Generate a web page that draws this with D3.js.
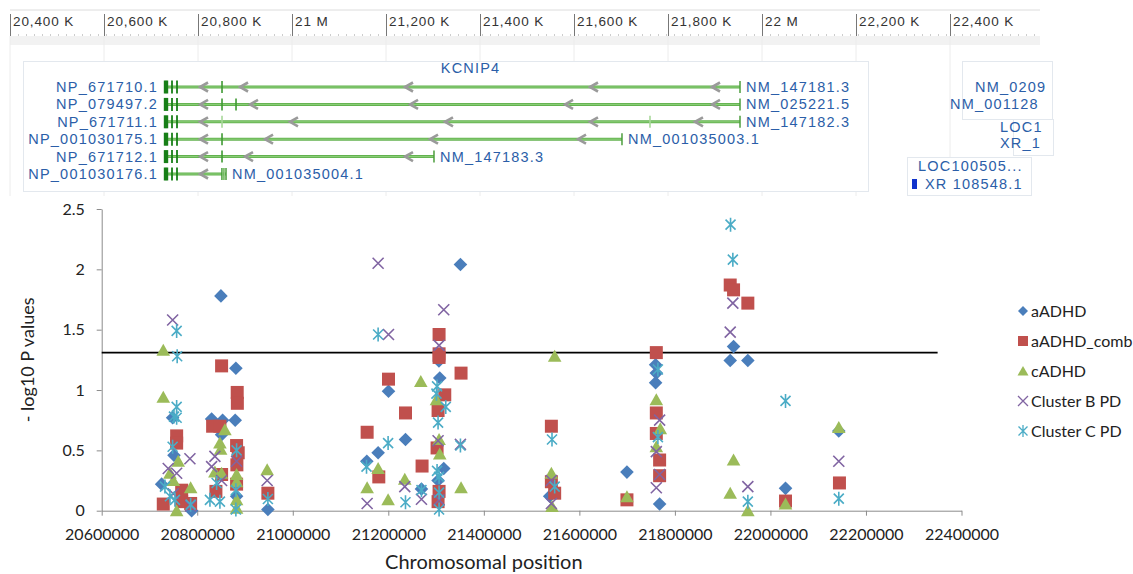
<!DOCTYPE html>
<html>
<head>
<meta charset="utf-8">
<script src="https://cdn.jsdelivr.net/npm/d3@7"></script>
<style>
body { margin: 0; background: #fff; }
svg { display: block; }
</style>
</head>
<body>
<svg id="chart" width="1133" height="574"></svg>
<script>
// ---- scatter data: [chromosomal position, -log10 P] ----
var aADHD = [[20725500,0.22],[20748500,0.77],[20751300,0.46],[20788300,0.0],
  [20849600,1.78],[20880900,1.18],[20879500,0.75],[20830100,0.76],[20853100,0.75],[20851000,0.63],[20882400,0.12],
  [20947900,0.01],
  [21155000,0.41],[21178700,0.48],[21200400,0.99],[21236000,0.59],[21269400,0.18],[21307700,1.10],[21306000,1.24],
  [21316100,0.35],[21351000,2.04],[21304200,0.25],
  [21537800,0.12],[21699600,0.32],[21759600,1.21],[21761100,1.14],[21759600,1.06],[21768000,0.055],
  [21922800,1.36],[21915800,1.245],[21952700,1.245],
  [22031600,0.185],[22143100,0.66]];

var aADHDcomb = [[20728900,0.055],[20756900,0.62],[20756900,0.56],[20767400,0.17],[20767400,0.075],[20786200,0.06],
  [20851000,1.2],[20883700,0.98],[20884000,0.89],[20832200,0.70],[20847500,0.70],[20882400,0.54],[20885800,0.48],
  [20883000,0.38],[20851000,0.30],[20882400,0.22],[20839100,0.16],
  [20947900,0.145],
  [21155700,0.65],[21180100,0.28],[21200400,1.09],[21236000,0.81],[21270700,0.37],[21306300,1.46],[21306300,1.30],
  [21306300,1.27],[21352300,1.14],[21318200,0.96],[21304200,0.83],[21302100,0.52],[21306300,0.16],[21304200,0.075],
  [21541400,0.70],[21541400,0.24],[21548300,0.145],
  [21699600,0.09],
  [21761100,1.31],[21761100,0.81],[21761100,0.64],[21768000,0.42],[21768000,0.29],
  [21915800,1.87],[21922800,1.83],[21952700,1.72],
  [22031600,0.08],[22144500,0.23]];

var cADHD = [[20728900,1.33],[20728900,0.94],[20760200,0.41],[20742900,0.31],[20749800,0.25],[20786200,0.19],[20756900,0.0],
  [20857900,0.67],[20847500,0.56],[20849000,0.51],[20837000,0.32],[20851000,0.31],[20882400,0.30],[20882400,0.24],
  [20882400,0.09],[20882400,0.02],
  [20946400,0.34],
  [21155700,0.19],[21178700,0.35],[21199600,0.09],[21234500,0.26],[21268000,1.07],[21300800,0.92],[21306300,0.59],
  [21307700,0.47],[21352300,0.19],
  [21548300,1.28],[21541400,0.31],[21542700,0.035],
  [21699600,0.115],
  [21761100,0.92],[21769400,0.68],[21761100,0.53],
  [21922800,0.42],[21915800,0.145],[21952700,0.0],
  [22031600,0.055],[22143100,0.69]];

var clusterB = [[20748500,1.58],[20784700,0.43],[20739300,0.35],[20756900,0.31],[20749800,0.14],[20786200,0.04],
  [20837000,0.45],[20830100,0.365],[20882400,0.41],[20851000,0.25],
  [20946400,0.25],
  [21178700,2.05],[21155700,0.06],[21234500,0.20],[21269400,0.095],[21316100,1.665],[21306300,1.37],[21304200,0.58],
  [21306300,0.09],[21351000,0.55],[21200400,1.46],
  [21541400,0.25],[21541400,0.06],
  [21768000,0.75],[21761100,0.49],[21768000,0.30],[21761100,0.19],
  [21921300,1.72],[21915800,1.48],[21952700,0.20],
  [22143100,0.41]];

var clusterC = [[20756900,1.49],[20758000,1.28],[20756900,0.86],[20756900,0.77],[20751300,0.78],[20748500,0.53],
  [20732400,0.20],[20742900,0.12],[20753300,0.09],[20786200,0.05],
  [20882400,0.50],[20840600,0.23],[20880900,0.17],[20826600,0.09],[20847500,0.075],[20880900,0.01],
  [20947900,0.097],
  [21178700,1.46],[21154400,0.365],[21199600,0.56],[21236000,0.07],[21269400,0.17],[21302100,1.03],[21300800,0.97],
  [21320300,0.86],[21304200,0.73],[21302100,0.33],[21306300,0.28],[21306300,0.15],[21306300,0.01],[21351000,0.54],
  [21542700,0.59],[21548300,0.20],
  [21764400,1.17],[21764400,0.61],
  [21916500,2.37],[21921300,2.08],[21952700,0.075],
  [22031600,0.91],[22143100,0.10]];

var seriesNames = ["aADHD", "aADHD_comb", "cADHD", "Cluster B PD", "Cluster C PD"];
var seriesData = [aADHD, aADHDcomb, cADHD, clusterB, clusterC];
var seriesColors = ["#4a7ebb", "#c0504d", "#9bbb59", "#8064a2", "#4bacc6"];

var xTicks = [20600000,20800000,21000000,21200000,21400000,21600000,21800000,22000000,22200000,22400000];
var yTicks = [0, 0.5, 1, 1.5, 2, 2.5];
var threshold = 1.31;
var thresholdRange = [20600000, 22350000];

// ---- genome browser data ----
var rulerTicks = [20400000,20600000,20800000,21000000,21200000,21400000,21600000,21800000,22000000,22200000,22400000];
var rulerLabels = ["20,400 K","20,600 K","20,800 K","21 M","21,200 K","21,400 K","21,600 K","21,800 K","22 M","22,200 K","22,400 K"];
var geneName = "KCNIP4";
var txStart = 20729800;
var proteinIds = ["NP_671710.1","NP_079497.2","NP_671711.1","NP_001030175.1","NP_671712.1","NP_001030176.1"];
var mrnaIds = ["NM_147181.3","NM_025221.5","NM_147182.3","NM_001035003.1","NM_147183.3","NM_001035004.1"];
var txEnds = [21953200, 21953200, 21953200, 21702100, 21302100, 20859600];
var txArrows = [
  [20804300, 20889400, 21240400, 21634000, 21893600],
  [20804300, 20910600, 21251100, 21580900, 21893600],
  [20804300, 20995700, 21325500, 21634000, 21857400],
  [20804300, 20942600, 21293600, 21608500],
  [20804300, 20900000, 21240400],
  [20804300]];
var txExons = [[20851100], [20851100, 20880900], [20851100, 21761700], [20851100], [20851100], [20851100, 20855400]];

var svg = d3.select("#chart");

// ================= genome browser panel =================
var bx = d3.scaleLinear().domain([20400000, 22400000]).range([10, 950]);
var rowY = d3.scalePoint().domain(d3.range(proteinIds.length)).range([87, 174]);
var gb = svg.append("g").attr("id", "browser");
var btext = "'Liberation Sans', Arial, sans-serif";
var labelBlue = "#2b5ea8";

// ruler
gb.append("line").attr("x1", 10).attr("x2", 1040).attr("y1", 10).attr("y2", 10)
  .attr("stroke", "#dcdcdc");
gb.append("rect").attr("x", 10).attr("y", 36).attr("width", 1030).attr("height", 9)
  .attr("fill", "#f2f2f2");
gb.append("line").attr("x1", 10).attr("x2", 1040).attr("y1", 35).attr("y2", 35)
  .attr("stroke", "#9a9a9a").attr("stroke-dasharray", "1,7");
gb.selectAll("line.grid").data(rulerTicks).enter().append("line")
  .attr("class", "grid")
  .attr("x1", function(d){ return bx(d); }).attr("x2", function(d){ return bx(d); })
  .attr("y1", 36).attr("y2", 196)
  .attr("stroke", "#ececec");
gb.selectAll("line.rtick").data(rulerTicks).enter().append("line")
  .attr("class", "rtick")
  .attr("x1", function(d){ return bx(d) + 0.5; }).attr("x2", function(d){ return bx(d) + 0.5; })
  .attr("y1", 14).attr("y2", 36)
  .attr("stroke", "#777");
gb.selectAll("text.rlab").data(rulerTicks).enter().append("text")
  .attr("class", "rlab")
  .attr("x", function(d){ return bx(d) + 3; }).attr("y", 26)
  .attr("font-family", btext).attr("font-size", 13.5).attr("letter-spacing", 0.9)
  .attr("fill", "#333")
  .text(function(d, i){ return rulerLabels[i]; });

// track boxes
gb.append("rect").attr("x", 23.5).attr("y", 61.5).attr("width", 845).attr("height", 130)
  .attr("fill", "#fff").attr("stroke", "#e3e8ee");
gb.append("rect").attr("x", 962.5).attr("y", 61.5).attr("width", 90).attr("height", 58)
  .attr("fill", "#fff").attr("stroke", "#e3e8ee");
gb.append("rect").attr("x", 1013.5).attr("y", 119.5).attr("width", 40).attr("height", 36)
  .attr("fill", "#fff").attr("stroke", "#e3e8ee");
gb.append("rect").attr("x", 907.5).attr("y", 157.5).attr("width", 124).attr("height", 38)
  .attr("fill", "#fff").attr("stroke", "#e3e8ee");

gb.append("text").attr("x", bx(21380000)).attr("y", 73)
  .attr("text-anchor", "middle")
  .attr("font-family", btext).attr("font-size", 14.5).attr("letter-spacing", 1.2)
  .attr("fill", labelBlue).text(geneName);

var rows = gb.selectAll("g.tx").data(proteinIds).enter().append("g")
  .attr("class", "tx")
  .attr("transform", function(d, i){ return "translate(0," + rowY(i) + ")"; });

rows.append("line")
  .attr("x1", bx(txStart)).attr("x2", function(d, i){ return bx(txEnds[i]); })
  .attr("y1", 0).attr("y2", 0)
  .attr("stroke", "#63b24f").attr("stroke-width", 3);
rows.append("line")
  .attr("x1", bx(txStart)).attr("x2", function(d, i){ return bx(txEnds[i]); })
  .attr("y1", 0).attr("y2", 0)
  .attr("stroke", "#8fd07c").attr("stroke-width", 1);
// end tick
rows.append("line")
  .attr("x1", function(d, i){ return bx(txEnds[i]); }).attr("x2", function(d, i){ return bx(txEnds[i]); })
  .attr("y1", -6).attr("y2", 6).attr("stroke", "#4c9d3d").attr("stroke-width", 1.5);
// 3' exon block, internal exons, direction arrows
rows.each(function(d, i){
  var g = d3.select(this);
  var x0 = bx(txStart);
  [0, 2, 7, 12].forEach(function(off, k){
    g.append("line").attr("x1", x0 + off).attr("x2", x0 + off)
      .attr("y1", -6.5).attr("y2", 6.5)
      .attr("stroke", "#177f17").attr("stroke-width", k < 2 ? 2.4 : 1.8);
  });
  txExons[i].forEach(function(p){
    g.append("line").attr("x1", bx(p)).attr("x2", bx(p))
      .attr("y1", -6).attr("y2", 6)
      .attr("stroke", i === 2 ? "#a8d89a" : "#3f9a33").attr("stroke-width", 1.6);
  });
  txArrows[i].forEach(function(p){
    var xp = bx(p);
    g.append("path").attr("d", "M" + (xp + 8) + ",-4.5L" + xp + ",0L" + (xp + 8) + ",4.5")
      .attr("fill", "none").attr("stroke", "#9a9a9a").attr("stroke-width", 2.6);
  });
});
// thin ticks at the short transcript end
var lastRow = rows.filter(function(d, i){ return i === proteinIds.length - 1; });
[20853000, 20856200].forEach(function(p){
  lastRow.append("line").attr("x1", bx(p)).attr("x2", bx(p)).attr("y1", -6).attr("y2", 6)
    .attr("stroke", "#9fd28f").attr("stroke-width", 1);
});
rows.append("text")
  .attr("x", bx(txStart) - 7).attr("y", 5)
  .attr("text-anchor", "end")
  .attr("font-family", btext).attr("font-size", 14.5).attr("letter-spacing", 1.2)
  .attr("fill", labelBlue).text(function(d){ return d; });
rows.append("text")
  .attr("x", function(d, i){ return bx(txEnds[i]) + 6; }).attr("y", 5)
  .attr("font-family", btext).attr("font-size", 14.5).attr("letter-spacing", 1.2)
  .attr("fill", labelBlue).text(function(d, i){ return mrnaIds[i]; });

// neighbouring genes on the right
var rightLabels = [["NM_0209", 975, 92], ["NM_001128", 950, 109], ["LOC1", 1000, 132], ["XR_1", 1000, 148],
  ["LOC100505...", 918, 171], ["XR 108548.1", 925, 189]];
gb.selectAll("text.nb").data(rightLabels).enter().append("text")
  .attr("class", "nb")
  .attr("x", function(d){ return d[1]; }).attr("y", function(d){ return d[2]; })
  .attr("font-family", btext).attr("font-size", 14.5).attr("letter-spacing", 1.2)
  .attr("fill", labelBlue).text(function(d){ return d[0]; });
gb.append("rect").attr("x", 912).attr("y", 179).attr("width", 5).attr("height", 10).attr("fill", "#1133cc");

// ================= scatter plot =================
var x = d3.scaleLinear().domain([20600000, 22400000]).range([101.7, 961.5]);
var y = d3.scaleLinear().domain([0, 2.5]).range([510.7, 209]);
var font = "Lato, 'Open Sans', sans-serif";

var plot = svg.append("g").attr("id", "plotarea");

var xAxis = plot.append("g")
  .attr("transform", "translate(0," + y(0) + ")")
  .call(d3.axisBottom(x).tickValues(xTicks).tickFormat(d3.format("d")).tickSize(5).tickSizeOuter(0));
var yAxis = plot.append("g")
  .attr("transform", "translate(" + x(20600000) + ",0)")
  .call(d3.axisLeft(y).tickValues(yTicks).tickFormat(function(d){ return String(d); }).tickSize(5).tickSizeOuter(0));
[xAxis, yAxis].forEach(function(a){
  a.select(".domain").attr("stroke", "#8c8c8c");
  a.selectAll(".tick line").attr("stroke", "#8c8c8c");
  a.selectAll("text").attr("font-family", font).attr("font-size", 16).attr("fill", "#222");
});
xAxis.selectAll("text").attr("dy", "1.35em");
yAxis.selectAll("text").attr("dx", "-0.55em");

plot.append("line")
  .attr("x1", x(thresholdRange[0])).attr("x2", x(thresholdRange[1]))
  .attr("y1", y(threshold)).attr("y2", y(threshold))
  .attr("stroke", "#000").attr("stroke-width", 1.8);

var shapes = [
  "M0,-6.8L6.8,0L0,6.8L-6.8,0Z",
  "M-6.5,-6.5H6.5V6.5H-6.5Z",
  "M0,-6.5L6.8,5.5H-6.8Z",
  "M-5.5,-5.5L5.5,5.5M-5.5,5.5L5.5,-5.5",
  "M-5,-5L5,5M-5,5L5,-5M0,-7L0,7"
];
var legendShapes = [
  "M0,-5L5,0L0,5L-5,0Z",
  "M-5,-5H5V5H-5Z",
  "M0,-5L5.5,4.5H-5.5Z",
  "M-5,-5L5,5M-5,5L5,-5",
  "M-4.5,-4.5L4.5,4.5M-4.5,4.5L4.5,-4.5M0,-6L0,6"
];
var isLine = [false, false, false, true, true];

seriesData.forEach(function(data, s){
  plot.append("g").attr("class", "series")
    .selectAll("path").data(data).enter().append("path")
    .attr("transform", function(d){ return "translate(" + x(d[0]) + "," + y(d[1]) + ")"; })
    .attr("d", shapes[s])
    .attr("fill", isLine[s] ? "none" : seriesColors[s])
    .attr("stroke", isLine[s] ? seriesColors[s] : "none")
    .attr("stroke-width", 1.6);
});

// axis titles
plot.append("text")
  .attr("x", x(21400000)).attr("y", 569)
  .attr("text-anchor", "middle")
  .attr("font-family", font).attr("font-size", 20).attr("fill", "#222")
  .text("Chromosomal position");
plot.append("text")
  .attr("transform", "translate(34," + y(1.25) + ") rotate(-90)")
  .attr("text-anchor", "middle")
  .attr("font-family", font).attr("font-size", 18).attr("fill", "#222")
  .text("- log10 P values");

// legend
var legend = plot.append("g").attr("transform", "translate(1023,311)");
var li = legend.selectAll("g").data(seriesNames).enter().append("g")
  .attr("transform", function(d, i){ return "translate(0," + (i * 30) + ")"; });
li.append("path")
  .attr("d", function(d, i){ return legendShapes[i]; })
  .attr("fill", function(d, i){ return isLine[i] ? "none" : seriesColors[i]; })
  .attr("stroke", function(d, i){ return isLine[i] ? seriesColors[i] : "none"; })
  .attr("stroke-width", 1.3);
li.append("text").attr("x", 8).attr("y", 6)
  .attr("font-family", font).attr("font-size", 16).attr("fill", "#222")
  .text(function(d){ return d; });
</script>
</body>
</html>
